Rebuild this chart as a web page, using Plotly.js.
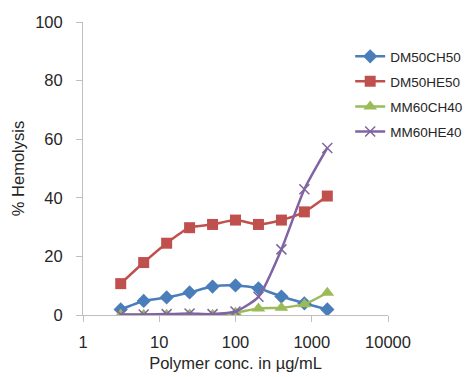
<!DOCTYPE html>
<html><head><meta charset="utf-8">
<script src="https://cdn.plot.ly/plotly-3.0.1.min.js"></script>
<style>html,body{margin:0;padding:0;background:#fff}#chart{width:465px;height:377px}</style>
</head><body><div id="chart"></div>
<script>
const conc = [3.125, 6.25, 12.5, 25, 50, 100, 200, 400, 800, 1600];
const DM50CH50 = [1.9, 4.8, 6.0, 7.7, 9.7, 10.1, 9.1, 6.3, 4.0, 1.9];
const DM50HE50 = [10.7, 17.9, 24.5, 29.8, 30.9, 32.4, 30.9, 32.4, 35.2, 40.6];
const MM60CH40 = [0.1, 0.1, 0.1, 0.2, 0.1, 0.8, 2.2, 2.5, 3.7, 7.6];
const MM60HE40 = [0.2, 0.2, 0.3, 0.5, 0.3, 1.2, 6.2, 22.4, 42.9, 57.0];
const xTickVals = [1, 10, 100, 1000, 10000];
const xTickText = ['1', '10', '100', '1000', '10000'];
const yTickVals = [0, 20, 40, 60, 80, 100];

const font = 'Liberation Sans, Arial, sans-serif';
function tr(name, y, color, symbol, size, lineW) {
  const m = {color: color, symbol: symbol, size: size};
  if (lineW) m.line = {color: color, width: lineW};
  return {
    x: conc, y: y, name: name, type: 'scatter', mode: 'lines+markers', legendgroup: name,
    line: {color: color, width: 2.5, shape: 'spline', smoothing: 0.6},
    marker: m
  };
}
const data = [
  tr('DM50CH50', DM50CH50, '#4a7ebb', 'diamond', 11),
  tr('DM50HE50', DM50HE50, '#c0504d', 'square', 11),
  tr('MM60CH40', MM60CH40, '#9bbb59', 'triangle-up', 12),
  tr('MM60HE40', MM60HE40, '#8064a2', 'x-thin-open', 10, 1.5)
];
const layout = {
  width: 465, height: 377,
  margin: {l: 83, r: 77, t: 22, b: 62, autoexpand: false},
  paper_bgcolor: '#fff', plot_bgcolor: '#fff',
  font: {family: font, color: '#262626', size: 16},
  showlegend: true,
  legend: {x: 0.876, y: 0.935, yanchor: 'top', bgcolor: 'rgba(0,0,0,0)', font: {size: 13.5, color: '#262626'}, itemwidth: 30, tracegroupgap: 4.5},
  xaxis: {
    type: 'log', range: [0, 4], tickvals: xTickVals, ticktext: xTickText,
    showgrid: false, zeroline: false, showline: true, linecolor: '#bfbfbf', linewidth: 1,
    ticks: 'outside', ticklen: 6, tickcolor: '#bfbfbf', tickfont: {size: 16.5},
    ticklabelstandoff: 6,
    title: {text: 'Polymer conc. in µg/mL', font: {size: 16.5}, standoff: 7}
  },
  yaxis: {
    range: [0, 100], tickvals: yTickVals,
    showgrid: false, zeroline: false, showline: true, linecolor: '#bfbfbf', linewidth: 1,
    ticks: 'outside', ticklen: 6, tickcolor: '#bfbfbf', tickfont: {size: 16.5},
    ticklabelstandoff: 10,
    title: {text: '% Hemolysis', font: {size: 16.5}, standoff: 6}
  }
};
Plotly.newPlot('chart', data, layout, {displayModeBar: false, staticPlot: true});
</script></body></html>
